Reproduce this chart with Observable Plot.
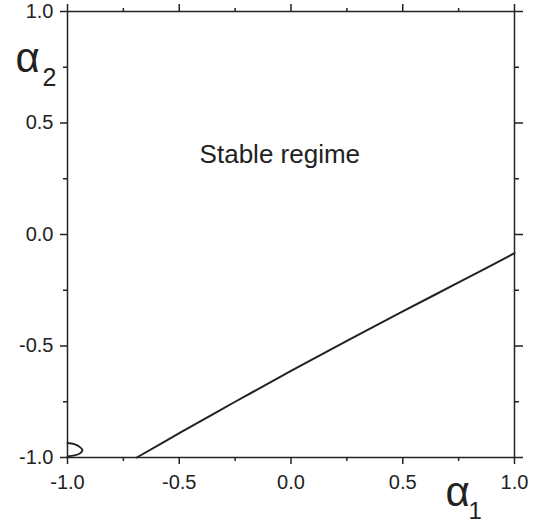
<!DOCTYPE html>
<html>
<head>
<meta charset="utf-8">
<script src="https://cdn.jsdelivr.net/npm/d3@7"></script>
<script src="https://cdn.jsdelivr.net/npm/@observablehq/plot@0.6"></script>
<style>
  html, body { margin: 0; padding: 0; background: #fff; }
</style>
</head>
<body>
<div id="chart"></div>
<script>
// Boundary curve (α1, α2)
const boundaryA1 = [-0.69, -0.5, -0.25, 0, 0.25, 0.5, 0.75, 1.0];
const boundaryA2 = [-1.0, -0.891, -0.750, -0.612, -0.477, -0.345, -0.215, -0.084];
// Small loop near lower-left corner
const loopA1 = [-1.0, -0.97, -0.945, -0.933, -0.945, -0.97, -1.0];
const loopA2 = [-0.935, -0.94, -0.953, -0.967, -0.982, -0.991, -0.995];
// Ticks
const majorTicks = [-1, -0.5, 0, 0.5, 1];
const minorTicks = [-0.75, -0.25, 0.25, 0.75];
// Annotation
const annotationText = ["Stable regime"];
const annotationA1 = [-0.05];
const annotationA2 = [0.32];

const boundary = boundaryA1.map((a, i) => ({a1: a, a2: boundaryA2[i]}));
const loop = loopA1.map((a, i) => ({a1: a, a2: loopA2[i]}));
const annotation = annotationText.map((t, i) => ({t, a1: annotationA1[i], a2: annotationA2[i]}));

const ink = "#222";
const font = "'Liberation Sans', Arial, Helvetica, sans-serif";
const fmt = d => d.toFixed(1);
const blank = () => "";

const tickAxis = (axis, anchor, ticks, size) =>
  axis({anchor, ticks, tickSize: size, tickFormat: blank, label: null, stroke: ink, strokeWidth: 1.5});

const chart = Plot.plot({
  width: 539,
  height: 523,
  marginLeft: 67,
  marginRight: 25,
  marginTop: 11,
  marginBottom: 66,
  style: {fontFamily: font, background: "#fff", color: ink, overflow: "visible"},
  x: {domain: [-1, 1]},
  y: {domain: [-1, 1]},
  marks: [
    // major ticks, all four sides (outward)
    tickAxis(Plot.axisX, "bottom", majorTicks, 7),
    tickAxis(Plot.axisY, "left", majorTicks, 7),
    tickAxis(Plot.axisX, "top", majorTicks, 8),
    tickAxis(Plot.axisY, "right", majorTicks, 8),
    // minor ticks
    tickAxis(Plot.axisX, "bottom", minorTicks, 4),
    tickAxis(Plot.axisY, "left", minorTicks, 4),
    tickAxis(Plot.axisX, "top", minorTicks, 4),
    tickAxis(Plot.axisY, "right", minorTicks, 4),
    // tick labels
    Plot.text(majorTicks, {x: d => d, frameAnchor: "bottom", text: fmt, lineAnchor: "top", dy: 17, fontSize: 20, fill: ink}),
    Plot.text(majorTicks, {y: d => d, frameAnchor: "left", text: fmt, textAnchor: "end", lineAnchor: "middle", dx: -14, fontSize: 20, fill: ink}),
    Plot.frame({stroke: ink, strokeWidth: 1.5}),
    Plot.line(boundary, {x: "a1", y: "a2", stroke: ink, strokeWidth: 2, curve: "catmull-rom"}),
    Plot.line(loop, {x: "a1", y: "a2", stroke: ink, strokeWidth: 1.8, curve: "catmull-rom"}),
    Plot.text(annotation, {x: "a1", y: "a2", text: "t", fontSize: 26, lineAnchor: "bottom", fill: ink}),
    // axis titles α2 (y) and α1 (x)
    Plot.text(["α"], {frameAnchor: "top-left", text: d => d, textAnchor: "start", lineAnchor: "bottom", dx: -52, dy: 60, fontSize: 42, fill: ink}),
    Plot.text(["2"], {frameAnchor: "top-left", text: d => d, textAnchor: "start", lineAnchor: "bottom", dx: -25, dy: 74, fontSize: 25, fill: ink}),
    Plot.text(["α"], {frameAnchor: "bottom-right", text: d => d, textAnchor: "start", lineAnchor: "bottom", dx: -69, dy: 48, fontSize: 42, fill: ink}),
    Plot.text(["1"], {frameAnchor: "bottom-right", text: d => d, textAnchor: "start", lineAnchor: "bottom", dx: -46, dy: 61, fontSize: 24, fill: ink})
  ]
});
document.getElementById("chart").appendChild(chart);
</script>
</body>
</html>
